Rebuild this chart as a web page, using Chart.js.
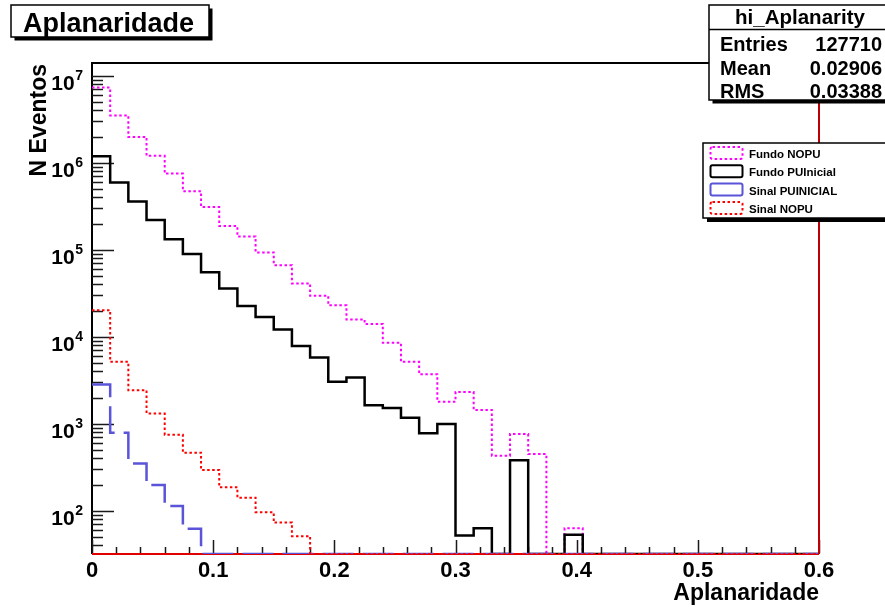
<!DOCTYPE html>
<html>
<head>
<meta charset="utf-8">
<title>Aplanaridade</title>
<script src="https://cdn.jsdelivr.net/npm/chart.js@4/dist/chart.umd.min.js"></script>
<style>
  html, body { margin: 0; padding: 0; background: #fff; }
  canvas { display: block; }
</style>
</head>
<body>
<canvas id="c" width="885" height="607"></canvas>
<script>
// Histogram range: 40 bins between 0 and 0.6
const BIN_LO = 0;
const BIN_HI = 0.6;

// Bin contents (events per bin); 0 = empty bin
const fundoNOPU = [7.3e6, 3.5e6, 1.98e6, 1.2e6, 7.5e5, 4.7e5, 3.1e5, 1.87e5, 1.42e5, 9.3e4,
                   6.65e4, 4.1e4, 2.95e4, 2.3e4, 1.58e4, 1.4e4, 8500, 5150, 3700, 1790,
                   2310, 1440, 429, 760, 448, 0, 63, 0, 0, 0,
                   0, 0, 0, 0, 0, 0, 0, 0, 0, 0];
const fundoPUInicial = [1.19e6, 5.93e5, 3.59e5, 2.2e5, 1.32e5, 8.9e4, 5.5e4, 3.59e4, 2.25e4, 1.69e4,
                        1.21e4, 7800, 5780, 3030, 3400, 1630, 1520, 1170, 775, 990,
                        52, 63, 0, 380, 0, 0, 53, 0, 0, 0,
                        0, 0, 0, 0, 0, 0, 0, 0, 0, 0];
const sinalPUINICIAL = [2830, 787, 350, 197, 113, 62, 0, 0, 0, 0,
                        0, 0, 0, 0, 0, 0, 0, 0, 0, 0,
                        0, 0, 0, 0, 0, 0, 0, 0, 0, 0,
                        0, 0, 0, 0, 0, 0, 0, 0, 0, 0];
const sinalNOPU = [2.02e4, 5150, 2420, 1310, 747, 464, 294, 186, 141, 96,
                   73, 51, 0, 0, 0, 0, 0, 0, 0, 0,
                   0, 0, 0, 0, 0, 0, 0, 0, 0, 0,
                   0, 0, 0, 0, 0, 0, 0, 0, 0, 0];

const seriesNames = ['Fundo NOPU', 'Fundo PUInicial', 'Sinal PUINICIAL', 'Sinal NOPU'];

// Axis ticks
const xTickLabels = ['0', '0.1', '0.2', '0.3', '0.4', '0.5', '0.6'];
const yTickExponents = [2, 3, 4, 5, 6, 7];

// Statistics box
const statsTitle = 'hi_Aplanarity';
const statsLabels = ['Entries', 'Mean', 'RMS'];
const statsValues = ['127710', '0.02906', '0.03388'];

const Y_MIN = 31.8;
const Y_MAX = 1.4e7;

const FONT = '"Liberation Sans", Arial, Helvetica, sans-serif';

// Bin lower edges with their contents, plus the closing upper edge;
// empty bins sit on the axis floor.
function histPoints(counts) {
  const w = (BIN_HI - BIN_LO) / counts.length;
  const pts = counts.map((c, i) => ({ x: BIN_LO + i * w, y: c > 0 ? c : Y_MIN }));
  pts.push({ x: BIN_HI, y: pts[pts.length - 1].y });
  return pts;
}

const styles = [
  { color: '#ff00ff', width: 2,   dash: [2.5, 2.5] },
  { color: '#000000', width: 2.5, dash: [] },
  { color: '#5954d8', width: 2.5, dash: [31, 9] },
  { color: '#ff0000', width: 2,   dash: [2.5, 2.5] }
];
const seriesData = [fundoNOPU, fundoPUInicial, sinalPUINICIAL, sinalNOPU];
const drawOrder = [3, 2, 1, 0];

const datasets = seriesData.map((d, i) => ({
  label: seriesNames[i],
  data: histPoints(d),
  stepped: 'before',
  borderColor: styles[i].color,
  borderWidth: styles[i].width,
  borderDash: styles[i].dash,
  pointRadius: 0,
  fill: false,
  tension: 0,
  order: drawOrder[i]
}));

function boxWithShadow(ctx, x, y, w, h, sh) {
  ctx.fillStyle = '#000';
  ctx.fillRect(x + sh, y + sh, w, h);
  ctx.fillStyle = '#fff';
  ctx.fillRect(x, y, w, h);
  ctx.strokeStyle = '#000';
  ctx.lineWidth = 1.5;
  ctx.strokeRect(x, y, w, h);
}

// Frame and tick marks, under the histograms
const frame = {
  id: 'frame',
  beforeDatasetsDraw(chart) {
    const ctx = chart.ctx;
    const xs = chart.scales.x, ys = chart.scales.y;
    const { left: L, right: R, top: T, bottom: B } = chart.chartArea;
    ctx.save();
    ctx.strokeStyle = '#000';
    ctx.lineWidth = 2;
    ctx.beginPath();
    ctx.moveTo(R, T); ctx.lineTo(L, T); ctx.lineTo(L, B);
    ctx.stroke();
    ctx.strokeStyle = '#e00000';
    ctx.beginPath();
    ctx.moveTo(L, B); ctx.lineTo(R, B);
    ctx.stroke();

    // Y ticks (log): majors at decades, minors at 2..9
    ctx.strokeStyle = '#1a1a1a';
    ctx.lineWidth = 1.5;
    ctx.beginPath();
    for (let e = yTickExponents[0] - 1; e <= yTickExponents[yTickExponents.length - 1]; e++) {
      for (let m = 1; m <= 9; m++) {
        const v = m * Math.pow(10, e);
        if (v < Y_MIN || v > Y_MAX) continue;
        const py = Math.round(ys.getPixelForValue(v)) + 0.5;
        const len = m === 1 ? 22 : 11;
        ctx.moveTo(L, py); ctx.lineTo(L + len, py);
      }
    }
    // X ticks: majors at labels, minors every fifth of a division
    xTickLabels.forEach((lab, i) => {
      const v = parseFloat(lab);
      const px = Math.round(xs.getPixelForValue(v)) + 0.5;
      ctx.moveTo(px, B - 1); ctx.lineTo(px, B - 14);
      if (i < xTickLabels.length - 1) {
        const next = parseFloat(xTickLabels[i + 1]);
        for (let k = 1; k < 5; k++) {
          const q = Math.round(xs.getPixelForValue(v + (next - v) * k / 5)) + 0.5;
          ctx.moveTo(q, B - 1); ctx.lineTo(q, B - 7);
        }
      }
    });
    ctx.stroke();
    ctx.restore();
  }
};

// Labels, titles, statistics box and legend, over the histograms
const decorations = {
  id: 'decorations',
  afterDatasetsDraw(chart) {
    const ctx = chart.ctx;
    const xs = chart.scales.x, ys = chart.scales.y;
    const { left: L, right: R, top: T, bottom: B } = chart.chartArea;
    ctx.save();

    ctx.strokeStyle = '#c00000';
    ctx.lineWidth = 2;
    ctx.beginPath();
    ctx.moveTo(R, T); ctx.lineTo(R, B);
    ctx.stroke();

    // X tick labels
    ctx.fillStyle = '#000';
    ctx.font = 'bold 22px ' + FONT;
    ctx.textAlign = 'center';
    ctx.textBaseline = 'alphabetic';
    xTickLabels.forEach(lab => {
      ctx.fillText(lab, xs.getPixelForValue(parseFloat(lab)), 577);
    });

    // Y tick labels: 10 with superscript exponent
    yTickExponents.forEach(e => {
      const py = ys.getPixelForValue(Math.pow(10, e));
      ctx.font = 'bold 14px ' + FONT;
      ctx.textAlign = 'right';
      const supW = ctx.measureText(String(e)).width;
      ctx.fillText(String(e), 83, py + 4);
      ctx.font = 'bold 21px ' + FONT;
      ctx.fillText('10', 83 - supW - 0.5, py + 14.5);
    });

    // Axis titles
    ctx.font = 'bold 23px ' + FONT;
    ctx.textAlign = 'right';
    ctx.fillText('Aplanaridade', R, 600);
    ctx.save();
    ctx.translate(46, T + 1);
    ctx.rotate(-Math.PI / 2);
    ctx.textAlign = 'right';
    ctx.fillText('N Eventos', 0, 0);
    ctx.restore();

    // Title box
    boxWithShadow(ctx, 11, 5, 198, 32, 3.5);
    ctx.fillStyle = '#000';
    ctx.font = 'bold 27px ' + FONT;
    ctx.textAlign = 'left';
    ctx.fillText('Aplanaridade', 23, 31.5);

    // Statistics box
    boxWithShadow(ctx, 709, 5, 190, 95, 3.5);
    ctx.strokeStyle = '#000';
    ctx.lineWidth = 1.5;
    ctx.beginPath();
    ctx.moveTo(709, 29.5); ctx.lineTo(885, 29.5);
    ctx.stroke();
    ctx.fillStyle = '#000';
    ctx.font = 'bold 20.5px ' + FONT;
    ctx.textAlign = 'center';
    ctx.fillText(statsTitle, 800, 24);
    ctx.font = 'bold 20px ' + FONT;
    statsLabels.forEach((lab, i) => {
      const by = 51 + i * 23.5;
      ctx.textAlign = 'left';
      ctx.fillText(lab, 720, by);
      ctx.textAlign = 'right';
      ctx.fillText(statsValues[i], 882, by);
    });

    // Legend
    boxWithShadow(ctx, 703, 143, 190, 75, 4);
    seriesNames.forEach((name, i) => {
      const by = 158 + i * 18.3;
      const cy = by - 5;
      const st = styles[i];
      ctx.save();
      ctx.strokeStyle = st.color;
      ctx.lineWidth = 2;
      ctx.setLineDash(i === 2 ? [] : st.dash);
      ctx.beginPath();
      ctx.roundRect(710.5, cy - 6, 32, 12, 2);
      ctx.stroke();
      ctx.restore();
      ctx.fillStyle = '#000';
      ctx.font = 'bold 11.5px ' + FONT;
      ctx.textAlign = 'left';
      ctx.fillText(name, 749, by);
    });

    ctx.restore();
  }
};

new Chart(document.getElementById('c'), {
  type: 'line',
  data: { datasets },
  options: {
    responsive: false,
    animation: false,
    devicePixelRatio: 1,
    layout: { padding: { left: 92, right: 66, top: 63, bottom: 53 } },
    plugins: { legend: { display: false }, tooltip: { enabled: false }, title: { display: false } },
    scales: {
      x: { type: 'linear', min: BIN_LO, max: BIN_HI, display: false },
      y: { type: 'logarithmic', min: Y_MIN, max: Y_MAX, display: false }
    }
  },
  plugins: [frame, decorations]
});
</script>
</body>
</html>
